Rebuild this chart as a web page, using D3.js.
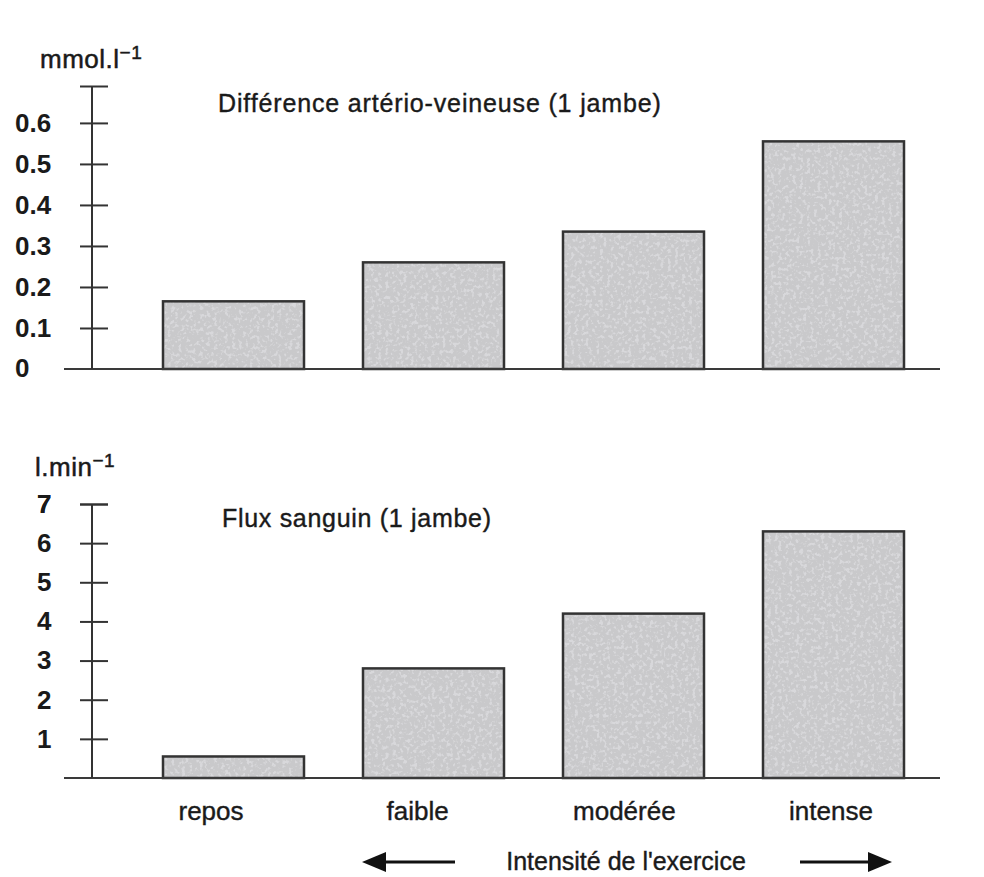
<!DOCTYPE html>
<html>
<head>
<meta charset="utf-8">
<script src="https://cdn.jsdelivr.net/npm/d3@7"></script>
<style>
  body { margin: 0; background: #fff; }
  text { font-family: "Liberation Sans", Arial, sans-serif; fill: #1a1a1a; }
</style>
</head>
<body>
<div id="chart"></div>
<script>
// categories and values
var categories = ["repos", "faible", "modérée", "intense"];
var avDiff = [0.165, 0.26, 0.335, 0.555];      // mmol.l-1
var bloodFlow = [0.55, 2.8, 4.2, 6.3];          // l.min-1
var avTicks = [0.1, 0.2, 0.3, 0.4, 0.5, 0.6];
var flowTicks = [1, 2, 3, 4, 5, 6, 7];

var width = 984, height = 877;

var svg = d3.select("#chart").append("svg")
    .attr("width", width)
    .attr("height", height);

//grainy fill like the scanned original
var defs = svg.append("defs");
var f = defs.append("filter")
    .attr("id", "speckle")
    .attr("x", 0).attr("y", 0).attr("width", 1).attr("height", 1);
f.append("feTurbulence")
    .attr("type", "fractalNoise")
    .attr("baseFrequency", 0.28)
    .attr("numOctaves", 2)
    .attr("seed", 4)
    .attr("result", "noise");
f.append("feColorMatrix")
    .attr("in", "noise")
    .attr("type", "matrix")
    .attr("values", "0 0 0 0 0.69  0 0 0 0 0.69  0 0 0 0 0.71  6 0 0 0 -3.1")
    .attr("result", "dots");
f.append("feComposite")
    .attr("in", "dots").attr("in2", "SourceGraphic")
    .attr("operator", "in")
    .attr("result", "dotsIn");
var merge = f.append("feMerge");
merge.append("feMergeNode").attr("in", "SourceGraphic");
merge.append("feMergeNode").attr("in", "dotsIn");

//shared x scale for bars
var x = d3.scaleBand()
    .domain(categories)
    .range([104, 963])
    .padding(0.295);

//label positions sit a bit left of bar centres
var xLab = d3.scalePoint()
    .domain(categories)
    .range([211, 831]);

var axisX = 92;

function drawPanel(opts){
    var y = opts.y;
    var g = svg.append("g");

    //bars: grainy fill, then outline
    g.selectAll(".bar")
        .data(opts.values)
        .enter()
        .append("rect")
        .attr("class", "bar")
        .attr("x", function(d, i){ return x(categories[i]); })
        .attr("width", x.bandwidth())
        .attr("y", function(d){ return y(d); })
        .attr("height", function(d){ return y(0) - y(d); })
        .attr("fill", "#c9c9cb")
        .attr("filter", "url(#speckle)");

    g.selectAll(".outline")
        .data(opts.values)
        .enter()
        .append("rect")
        .attr("class", "outline")
        .attr("x", function(d, i){ return x(categories[i]); })
        .attr("width", x.bandwidth())
        .attr("y", function(d){ return y(d); })
        .attr("height", function(d){ return y(0) - y(d); })
        .attr("fill", "none")
        .attr("stroke", "#333")
        .attr("stroke-width", 2.5);

    //baseline
    g.append("line")
        .attr("x1", 64).attr("x2", 940)
        .attr("y1", y(0)).attr("y2", y(0))
        .attr("stroke", "#3a3a3a")
        .attr("stroke-width", 2);

    //y axis, ticks crossing the line
    var axis = d3.axisLeft(y)
        .tickValues(opts.ticks.concat([y.domain()[1]]))
        .tickSize(0)
        .tickFormat(function(d){ return opts.ticks.indexOf(d) >= 0 ? opts.fmt(d) : ""; });

    var ax = g.append("g")
        .attr("transform", "translate(" + axisX + ",0)")
        .call(axis);

    ax.select(".domain")
        .attr("d", "M0," + y(0) + "V" + y(y.domain()[1]))
        .attr("stroke", "#333")
        .attr("stroke-width", 2);

    ax.selectAll(".tick line")
        .attr("x1", -12).attr("x2", 16)
        .attr("stroke", "#333")
        .attr("stroke-width", 2);

    ax.selectAll(".tick text")
        .attr("x", opts.labelX - axisX)
        .attr("text-anchor", "start")
        .attr("font-size", 26)
        .attr("font-weight", "bold")
        .attr("font-family", "Liberation Sans, Arial, sans-serif")
        .attr("fill", "#1a1a1a");

    if (opts.zeroLabel) {
        g.append("text")
            .attr("x", opts.labelX)
            .attr("y", y(0))
            .attr("dy", "0.32em")
            .attr("font-size", 26)
            .attr("font-weight", "bold")
            .text("0");
    }

    //unit label
    var u = g.append("text")
        .attr("x", opts.unitX)
        .attr("y", opts.unitY)
        .attr("font-size", 26)
        .attr("stroke", "#1a1a1a")
        .attr("stroke-width", 0.5)
        .attr("letter-spacing", 0.5)
        .text(opts.unit);
    u.append("tspan")
        .attr("dy", -9)
        .attr("font-size", 19)
        .text("−1");

    //panel title
    g.append("text")
        .attr("x", opts.titleX)
        .attr("y", opts.titleY)
        .attr("font-size", 25)
        .attr("letter-spacing", opts.titleSpacing)
        .attr("stroke", "#1a1a1a")
        .attr("stroke-width", 0.4)
        .text(opts.title);
}

drawPanel({
    y: d3.scaleLinear().domain([0, 0.69]).range([369, 86]),
    values: avDiff,
    ticks: avTicks,
    fmt: d3.format(".1f"),
    labelX: 15,
    zeroLabel: true,
    unit: "mmol.l",
    unitX: 40, unitY: 68,
    title: "Différence artério-veineuse (1 jambe)",
    titleSpacing: 0.85,
    titleX: 218, titleY: 112
});

drawPanel({
    y: d3.scaleLinear().domain([0, 7]).range([778, 504]),
    values: bloodFlow,
    ticks: flowTicks,
    fmt: d3.format("d"),
    labelX: 37,
    zeroLabel: false,
    unit: "l.min",
    unitX: 35, unitY: 476,
    title: "Flux sanguin (1 jambe)",
    titleSpacing: 0.7,
    titleX: 222, titleY: 527
});

//category labels
svg.selectAll(".cat")
    .data(categories)
    .enter()
    .append("text")
    .attr("class", "cat")
    .attr("x", function(d){ return xLab(d); })
    .attr("y", 820)
    .attr("text-anchor", "middle")
    .attr("font-size", 26)
    .attr("stroke", "#1a1a1a")
    .attr("stroke-width", 0.4)
    .text(function(d){ return d; });

//x axis caption with arrows
svg.append("text")
    .attr("x", 626)
    .attr("y", 870)
    .attr("text-anchor", "middle")
    .attr("font-size", 25)
    .attr("stroke", "#1a1a1a")
    .attr("stroke-width", 0.4)
    .text("Intensité de l'exercice");

svg.append("line")
    .attr("x1", 455).attr("x2", 380)
    .attr("y1", 862).attr("y2", 862)
    .attr("stroke", "#111").attr("stroke-width", 3);
svg.append("path")
    .attr("d", "M362,862L386,852L386,872Z")
    .attr("fill", "#111");

svg.append("line")
    .attr("x1", 800).attr("x2", 874)
    .attr("y1", 862).attr("y2", 862)
    .attr("stroke", "#111").attr("stroke-width", 3);
svg.append("path")
    .attr("d", "M892,862L868,852L868,872Z")
    .attr("fill", "#111");
</script>
</body>
</html>
